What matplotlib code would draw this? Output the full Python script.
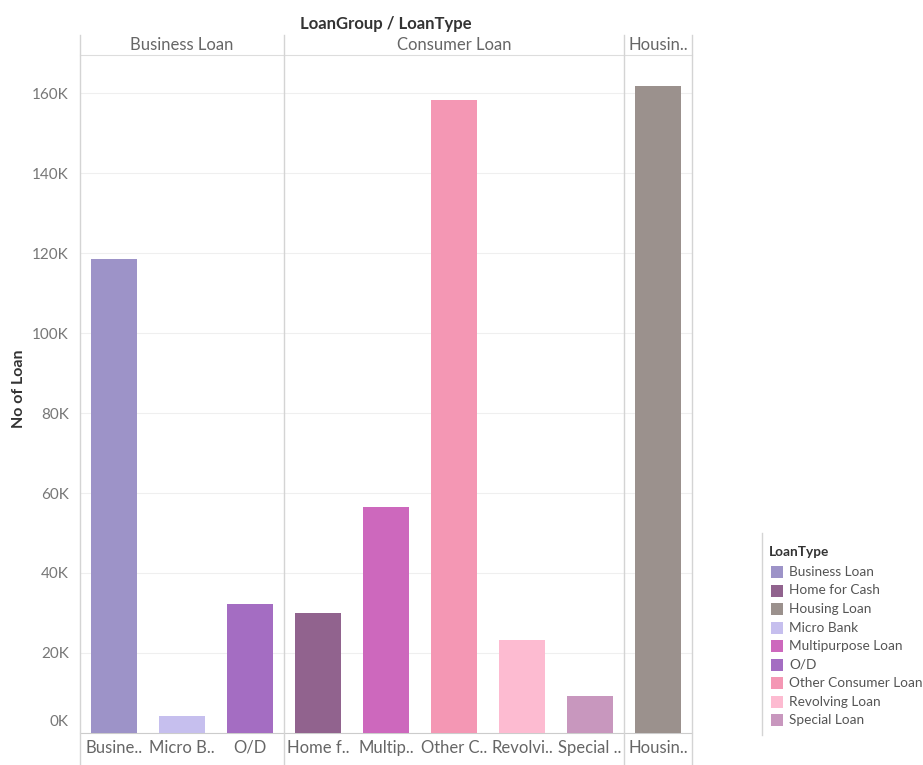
import matplotlib
matplotlib.use("Agg")
import matplotlib.pyplot as plt
import matplotlib.transforms as mtransforms
from matplotlib.patches import Rectangle
from matplotlib.lines import Line2D

plt.rcParams['font.family'] = ['Lato', 'DejaVu Sans']

# ---------------- data ----------------
loan_groups = ["Business Loan", "Consumer Loan", "Housin.."]
group_sizes = [3, 5, 1]
loan_types = ["Business Loan", "Micro Bank", "O/D",
              "Home for Cash", "Multipurpose Loan", "Other Consumer Loan",
              "Revolving Loan", "Special Loan", "Housing Loan"]
x_labels = ["Busine..", "Micro B..", "O/D", "Home f..", "Multip..",
            "Other C..", "Revolvi..", "Special ..", "Housin.."]
no_of_loan = [118500, 4200, 32200, 30000, 56500, 158200, 23200, 9200, 161800]
type_colors = {
    "Business Loan": "#9d93c8",
    "Home for Cash": "#91638e",
    "Housing Loan": "#9b918d",
    "Micro Bank": "#c6bfee",
    "Multipurpose Loan": "#cd68bd",
    "O/D": "#a46dc2",
    "Other Consumer Loan": "#f497b4",
    "Revolving Loan": "#fdbbd1",
    "Special Loan": "#c897be",
}
legend_types = ["Business Loan", "Home for Cash", "Housing Loan", "Micro Bank",
                "Multipurpose Loan", "O/D", "Other Consumer Loan",
                "Revolving Loan", "Special Loan"]
y_ticks = [0, 20000, 40000, 60000, 80000, 100000, 120000, 140000, 160000]
y_tick_labels = ["0K", "20K", "40K", "60K", "80K", "100K", "120K", "140K", "160K"]

# ---------------- figure ----------------
W, H = 923, 765
fig = plt.figure(figsize=(W / 100, H / 100), dpi=100)
ax = fig.add_axes([80 / W, 1 - 733 / H, 612 / W, 678 / H])

xs = list(range(len(loan_types)))
ax.bar(xs, no_of_loan, width=0.69,
       color=[type_colors[t] for t in loan_types], zorder=3)

ax.set_xlim(-0.5, len(loan_types) - 0.5)
ax.set_ylim(0, 169500)
ax.set_yticks(y_ticks)
ax.set_yticklabels(y_tick_labels, fontsize=11, color="#777777")
ax.tick_params(axis="y", length=0, pad=8)
ax.set_xticks(xs)
ax.set_xticklabels(x_labels, fontsize=12, color="#666666")
ax.tick_params(axis="x", length=0, pad=5)
ax.grid(axis="y", color="#efefef", linewidth=0.8, zorder=0)

# shift the 0K label upward like the reference
lbl0 = ax.get_yticklabels()[0]
lbl0.set_transform(lbl0.get_transform() +
                   mtransforms.ScaledTranslation(0, 12 / 100, fig.dpi_scale_trans))

for s in ["left", "right"]:
    ax.spines[s].set_visible(False)
ax.spines["top"].set_color("#dddddd")
ax.spines["bottom"].set_color("#cccccc")

# panel separators (x in data, y in figure)
trans = mtransforms.blended_transform_factory(ax.transData, fig.transFigure)
bounds = [-0.5]
acc = -0.5
for n in group_sizes:
    acc += n
    bounds.append(acc)
for b in bounds:
    ax.add_line(Line2D([b, b], [0, 1 - 35 / H], transform=trans,
                       color="#d4d4d4", linewidth=1, clip_on=False, zorder=4))

# header labels
start = -0.5
for g, n in zip(loan_groups, group_sizes):
    ax.text(start + n / 2, 1 - 45 / H, g, transform=trans, ha="center",
            va="center", fontsize=12, color="#666666")
    start += n

fig.text(386 / W, 1 - 24 / H, "LoanGroup / LoanType", ha="center", va="center",
         fontsize=12, fontweight="bold", color="#333333")
fig.text(19 / W, 1 - 389 / H, "No of Loan", rotation=90, ha="center",
         va="center", fontsize=11.5, fontweight="bold", color="#333333")

# ---------------- legend ----------------
fig.add_artist(Line2D([762 / W, 762 / W], [1 - 533 / H, 1 - 735 / H],
                      color="#d4d4d4", linewidth=1))
fig.text(769 / W, 1 - 552 / H, "LoanType", ha="left", va="center",
         fontsize=9.8, fontweight="bold", color="#333333")
for i, t in enumerate(legend_types):
    yc = 572 + i * 18.5
    fig.add_artist(Rectangle((771 / W, 1 - (yc + 6) / H), 12 / W, 12 / H,
                             transform=fig.transFigure,
                             facecolor=type_colors[t], edgecolor="none"))
    fig.text(789 / W, 1 - yc / H, t, ha="left", va="center",
             fontsize=9.8, color="#555555")

fig.savefig("out.png", dpi=100)
